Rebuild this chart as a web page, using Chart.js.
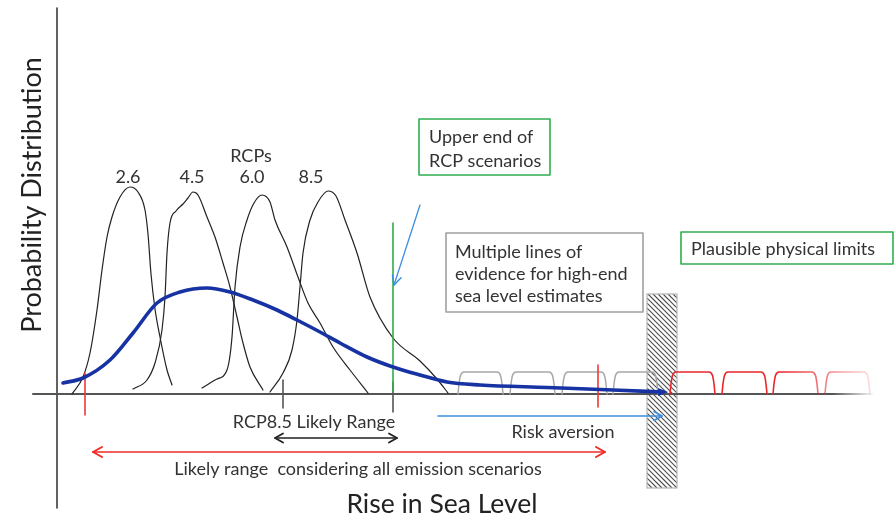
<!DOCTYPE html>
<html><head><meta charset="utf-8">
<script src="https://cdn.jsdelivr.net/npm/chart.js@4.4.1/dist/chart.umd.min.js"></script>
<style>html,body{margin:0;padding:0;background:#fff;overflow:hidden}</style>
</head><body>
<canvas id="c" width="895" height="521"></canvas>
<script>
// ---------------- data ----------------
const rcpLabels = ['2.6', '4.5', '6.0', '8.5'];
const rcpLabelX = [7.1, 13.5, 19.5, 25.4];
const rcp26 = [[1.5,0],[2.6,1.7],[3.3,4.1],[4.0,8.4],[4.5,12.4],[5.0,15.7],[5.5,17.7],[6.3,19.7],[7.3,20.7],[8.1,20.2],[8.8,18.4],[9.1,16.0],[9.4,12.0],[9.8,8.5],[10.3,5.7],[11.0,2.4],[11.5,0.9]];
const rcp45 = [[7.6,0.5],[9.0,1.4],[9.8,3.1],[10.5,6.4],[10.8,9.7],[11.0,14.1],[11.3,17.1],[11.9,18.3],[12.6,19.0],[13.1,19.6],[13.6,20.2],[14.1,19.9],[15.0,17.7],[15.8,15.7],[16.6,13.1],[17.3,10.7],[18.0,7.7],[18.6,5.1],[19.3,2.7],[20.6,0.4]];
const rcp60 = [[14.5,0.6],[16.0,1.5],[17.0,2.4],[17.5,5.7],[17.8,10.7],[18.3,14.7],[19.0,17.4],[19.7,19.1],[20.5,19.9],[21.3,19.2],[21.8,17.4],[23.0,14.7],[24.1,11.7],[25.1,9.1],[26.3,7.1],[27.6,4.7],[29.3,2.4],[31.1,0.1]];
const rcp85 = [[21.3,0.2],[22.6,2.1],[23.5,4.4],[24.0,7.4],[24.3,10.7],[24.6,14.1],[25.3,17.4],[26.1,19.2],[27.1,20.3],[27.9,19.8],[28.8,17.4],[30.0,14.1],[31.3,9.7],[33.6,5.6],[36.3,3.3],[38.0,1.5],[39.1,0.1]];
const allScenarios = [[0.6,1.1],[2.6,1.6],[5.3,3.4],[7.6,6.1],[10.0,9.1],[12.3,10.2],[15.0,10.6],[17.3,10.2],[19.6,9.4],[22.0,8.4],[24.0,7.4],[26.3,6.2],[28.3,5.1],[31.0,3.7],[33.6,2.7],[36.3,1.9],[39.0,1.2],[42.3,0.9],[49.0,0.65],[55.6,0.4],[60.6,0.2]];
const evidencePulseStarts = [40.1, 45.3, 50.5, 55.6];
const limitPulseStarts = [61.3, 66.5, 71.6, 76.8];
const pulseProfile = [[0,0],[0.1,1.0],[0.25,1.85],[0.6,2.2],[3.9,2.2],[4.25,1.85],[4.4,1.0],[4.5,0]];
const rcp85Range = [22.6, 33.6];       // grey ticks
const allRange = [2.8, 54.1];          // red ticks
const upperEndRCP = 33.6;              // green line
const xAxisExtent = [-2.4, 81.6];
const yAxisExtent = [-11.4, 38.6];

const FONT = 'Lato, "Open Sans", sans-serif';
const TXT = '#333';

const pts = a => a.map(p => ({x: p[0], y: p[1]}));
function fade(color, rgb, from, to) {
  return (c) => {
    const ch = c.chart; if (!ch.chartArea) return color;
    const xs = ch.scales.x;
    const g = ch.ctx.createLinearGradient(xs.getPixelForValue(from), 0, xs.getPixelForValue(to), 0);
    g.addColorStop(0, 'rgba(' + rgb + ',1)');
    g.addColorStop(1, 'rgba(' + rgb + ',0)');
    return g;
  };
}

const datasets = [];
datasets.push({data: pts([[xAxisExtent[0],0],[xAxisExtent[1],0]]), borderColor: fade('#555','85,85,85',77.5,81.8), borderWidth: 2, order: 20});
datasets.push({data: pts([[0,yAxisExtent[0]],[0,yAxisExtent[1]]]), borderColor: '#3a3a3a', borderWidth: 1.6, order: 20});
[rcp26, rcp45, rcp60, rcp85].forEach(c => datasets.push({data: pts(c), borderColor: '#222', borderWidth: 1.2, cubicInterpolationMode: 'monotone', order: 10}));
evidencePulseStarts.forEach(s => datasets.push({data: pts(pulseProfile.map(p => [s + p[0], p[1]])), borderColor: '#a8a8a8', borderWidth: 1.5, cubicInterpolationMode: 'monotone', order: 12}));
limitPulseStarts.forEach(s => datasets.push({data: pts(pulseProfile.map(p => [s + p[0], p[1]])), borderColor: fade('#e8262a','232,38,42',72.5,83), borderWidth: 1.6, cubicInterpolationMode: 'monotone', order: 12}));
rcp85Range.forEach((v,i) => datasets.push({data: pts([[v, i ? 1.2 : 1.4],[v, i ? -1.8 : -1.4]]), borderColor: '#555', borderWidth: 1.6, order: 6}));
datasets.push({data: pts([[upperEndRCP, 17.1],[upperEndRCP, 0.3]]), borderColor: '#2fae4f', borderWidth: 1.6, order: 5});
datasets.push({data: pts([[allRange[0], 2.1],[allRange[0], -2.1]]), borderColor: '#ee3a3a', borderWidth: 1.6, order: 4});
datasets.push({data: pts([[allRange[1], 2.9],[allRange[1], -1.3]]), borderColor: '#ee3a3a', borderWidth: 1.6, order: 4});
datasets.push({data: pts(allScenarios), borderColor: '#1632a3', borderWidth: 3.6, cubicInterpolationMode: 'monotone', order: 1});

datasets.forEach(d => { d.showLine = true; d.pointRadius = 0; d.fill = false; d.borderCapStyle = 'round'; });

// ---------------- overlay plugin ----------------
function head(ctx, x1, y1, x2, y2, len, w) {
  const a = Math.atan2(y2 - y1, x2 - x1);
  ctx.beginPath();
  ctx.moveTo(x2 - len * Math.cos(a) + w * Math.sin(a), y2 - len * Math.sin(a) - w * Math.cos(a));
  ctx.lineTo(x2, y2);
  ctx.lineTo(x2 - len * Math.cos(a) - w * Math.sin(a), y2 - len * Math.sin(a) + w * Math.cos(a));
  ctx.stroke();
}
const overlay = {
  id: 'overlay',
  beforeDatasetsDraw(chart) {
    const ctx = chart.ctx, X = v => chart.scales.x.getPixelForValue(v), Y = v => chart.scales.y.getPixelForValue(v);
    const x0 = X(59.0), x1 = X(62.0), y0 = Y(10.0), y1 = Y(-9.4);
    ctx.save();
    ctx.beginPath(); ctx.rect(x0, y0, x1 - x0, y1 - y0); ctx.fillStyle = '#fff'; ctx.fill(); ctx.clip();
    ctx.strokeStyle = '#4a4a4a'; ctx.lineWidth = 1.15;
    for (let k = -(y1 - y0); k < (x1 - x0) + 5; k += 5) {
      ctx.beginPath(); ctx.moveTo(x0 + k, y0); ctx.lineTo(x0 + k + (y1 - y0), y1); ctx.stroke();
    }
    ctx.restore();
    ctx.save(); ctx.strokeStyle = '#b5b5b5'; ctx.lineWidth = 1.2; ctx.strokeRect(x0, y0, x1 - x0, y1 - y0); ctx.restore();
  },
  afterDatasetsDraw(chart) {
    const ctx = chart.ctx, X = v => chart.scales.x.getPixelForValue(v), Y = v => chart.scales.y.getPixelForValue(v);
    ctx.save();
    const text = (s, x, y, align, size, color) => {
      ctx.font = size + 'px ' + FONT; ctx.fillStyle = color || TXT; ctx.textAlign = align; ctx.textBaseline = 'alphabetic';
      ctx.fillText(s, X(x), Y(y));
    };
    const box = (x0, y0, x1, y1, color) => {
      ctx.strokeStyle = color; ctx.lineWidth = 1.6;
      ctx.strokeRect(X(x0), Y(y0), X(x1) - X(x0), Y(y1) - Y(y0));
    };
    const line = (xa, ya, xb, yb, color, lw) => {
      ctx.strokeStyle = color; ctx.lineWidth = lw;
      ctx.beginPath(); ctx.moveTo(X(xa), Y(ya)); ctx.lineTo(X(xb), Y(yb)); ctx.stroke();
    };
    ctx.lineCap = 'round'; ctx.lineJoin = 'round';
    const b = allScenarios, n = b.length;
    {
      const tx = X(b[n-1][0]) + 2, ty = Y(b[n-1][1]);
      ctx.fillStyle = '#1632a3';
      ctx.beginPath(); ctx.moveTo(tx + 3, ty); ctx.lineTo(tx - 7, ty - 4); ctx.lineTo(tx - 7, ty + 4); ctx.closePath(); ctx.fill();
    }
    line(36.3, 18.9, 33.7, 10.9, '#3d8fe0', 1.3);
    ctx.strokeStyle = '#3d8fe0'; ctx.lineWidth = 1.5;
    head(ctx, X(36.3), Y(18.9), X(33.7), Y(10.9), 9, 4.5);
    line(38.1, -2.2, 60.5, -2.2, '#3d8fe0', 1.4);
    ctx.lineWidth = 1.6; head(ctx, X(38.1), Y(-2.2), X(60.5), Y(-2.2), 8, 4.5);
    line(21.8, -4.4, 34.0, -4.4, '#222', 1.6);
    ctx.lineWidth = 1.8; head(ctx, X(34.0), Y(-4.4), X(21.8), Y(-4.4), 8, 4.5); head(ctx, X(21.8), Y(-4.4), X(34.0), Y(-4.4), 8, 4.5);
    line(3.6, -5.8, 54.8, -5.8, '#ee2b2b', 1.7);
    ctx.lineWidth = 2; head(ctx, X(54.8), Y(-5.8), X(3.6), Y(-5.8), 9, 5); head(ctx, X(3.6), Y(-5.8), X(54.8), Y(-5.8), 9, 5);

    box(36.2, 27.5, 49.3, 21.9, '#2fae4f');
    box(38.9, 16.1, 58.6, 8.2, '#a0a0a0');
    box(62.4, 16.2, 83.6, 13.0, '#2fae4f');
    text('Upper end of', 37.2, 25.1, 'left', 18);
    text('RCP scenarios', 37.2, 22.7, 'left', 18);
    text('Multiple lines of', 39.8, 13.6, 'left', 18);
    text('evidence for high-end', 39.8, 11.4, 'left', 18);
    text('sea level estimates', 39.8, 9.2, 'left', 18);
    text('Plausible physical limits', 63.4, 13.9, 'left', 18);

    text('RCPs', 19.4, 23.2, 'center', 18);
    rcpLabels.forEach((l, i) => text(l, rcpLabelX[i], 21.1, 'center', 18));
    text('RCP8.5 Likely Range', 25.7, -3.4, 'center', 18);
    text('Likely range  considering all emission scenarios', 30.1, -8.1, 'center', 18);
    text('Risk aversion', 50.6, -4.4, 'center', 18);
    text('Rise in Sea Level', 38.5, -11.9, 'center', 26.5, '#222');
    ctx.save();
    ctx.translate(X(-1.6), Y(19.9)); ctx.rotate(-Math.PI / 2);
    ctx.font = '27px ' + FONT; ctx.fillStyle = '#222'; ctx.textAlign = 'center'; ctx.textBaseline = 'alphabetic';
    ctx.fillText('Probability Distribution', 0, 0);
    ctx.restore();
    ctx.restore();
  }
};

new Chart(document.getElementById('c'), {
  type: 'scatter',
  data: {datasets},
  options: {
    responsive: false, animation: false, events: [],
    layout: {padding: 0},
    scales: {
      x: {type: 'linear', min: -5.7, max: 83.8, display: false},
      y: {type: 'linear', min: -12.7, max: 39.4, display: false}
    },
    plugins: {legend: {display: false}, tooltip: {enabled: false}}
  },
  plugins: [overlay]
});
</script>
</body></html>
